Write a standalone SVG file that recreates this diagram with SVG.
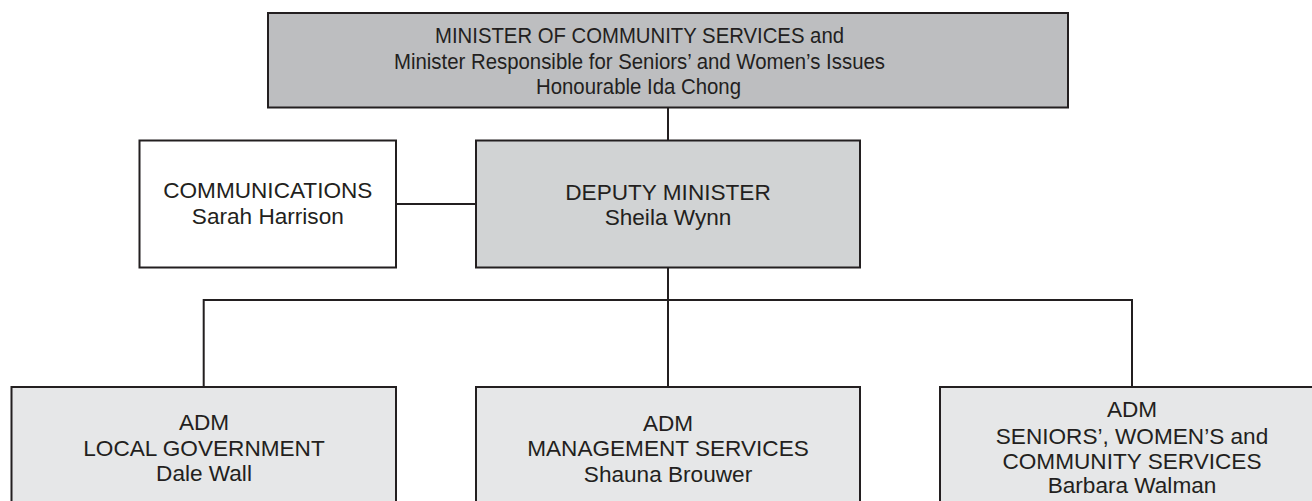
<svg xmlns="http://www.w3.org/2000/svg" width="1312" height="501" viewBox="0 0 1312 501">
  <style>
    .box { stroke: #231f20; stroke-width: 2; }
    .minister { fill: #bdbec0; }
    .deputy { fill: #d1d3d4; }
    .comms { fill: #ffffff; }
    .adm { fill: #e6e7e8; }
    .label { font-family: "Liberation Sans", Arial, sans-serif; font-size: 22.6px; fill: #231f20; text-anchor: middle; }
    .label.small { font-size: 22px; }
    .link { fill: none; stroke: #231f20; stroke-width: 2; }
  </style>
  <rect width="1312" height="501" fill="#ffffff"/>

  <g id="connectors">
    <line class="link" x1="668" y1="107.5" x2="668" y2="140.5"/>
    <line class="link" x1="395.5" y1="204" x2="476" y2="204"/>
    <line class="link" x1="668" y1="267.5" x2="668" y2="387"/>
    <polyline class="link" points="203.7,387 203.7,300 1132,300 1132,387"/>
  </g>

  <g id="minister">
    <rect class="box minister" x="268" y="13" width="800" height="94.5"/>
    <text class="label small" x="639.5" y="43.3" textLength="409" lengthAdjust="spacingAndGlyphs">MINISTER OF COMMUNITY SERVICES and</text>
    <text class="label small" x="639.5" y="69.3" textLength="491" lengthAdjust="spacingAndGlyphs">Minister Responsible for Seniors’ and Women’s Issues</text>
    <text class="label small" x="638.5" y="94.3" textLength="205" lengthAdjust="spacingAndGlyphs">Honourable Ida Chong</text>
  </g>

  <g id="communications">
    <rect class="box comms" x="139.5" y="140.5" width="256.5" height="127"/>
    <text class="label" x="267.8" y="197.7">COMMUNICATIONS</text>
    <text class="label" x="267.8" y="224.3">Sarah Harrison</text>
  </g>

  <g id="deputy-minister">
    <rect class="box deputy" x="476" y="140.5" width="384" height="127"/>
    <text class="label" x="668" y="200">DEPUTY MINISTER</text>
    <text class="label" x="668" y="225">Sheila Wynn</text>
  </g>

  <g id="adm-local-government">
    <rect class="box adm" x="11.5" y="387" width="384.5" height="130"/>
    <text class="label" x="204" y="430">ADM</text>
    <text class="label" x="204" y="456">LOCAL GOVERNMENT</text>
    <text class="label" x="204" y="481">Dale Wall</text>
  </g>

  <g id="adm-management-services">
    <rect class="box adm" x="476" y="387" width="384" height="130"/>
    <text class="label" x="668" y="431">ADM</text>
    <text class="label" x="668" y="455.7">MANAGEMENT SERVICES</text>
    <text class="label" x="668" y="481.7">Shauna Brouwer</text>
  </g>

  <g id="adm-seniors-women-community">
    <rect class="box adm" x="940" y="387" width="400" height="130"/>
    <text class="label" x="1132" y="416.7">ADM</text>
    <text class="label" x="1132" y="444.3">SENIORS’, WOMEN’S and</text>
    <text class="label" x="1132" y="469">COMMUNITY SERVICES</text>
    <text class="label" x="1132" y="493.3">Barbara Walman</text>
  </g>
</svg>
